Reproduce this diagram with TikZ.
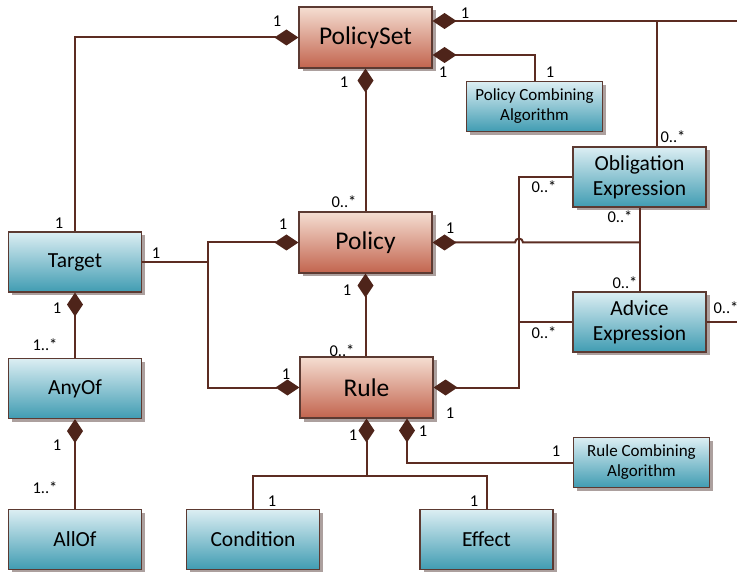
\documentclass[tikz,border=0pt]{standalone}
\usepackage{fontspec}
\setmainfont{Carlito}
\usetikzlibrary{arrows.meta,shadows,calc}

\definecolor{wire}{RGB}{92,44,34}
\definecolor{tipc}{RGB}{78,36,26}
\definecolor{edgec}{RGB}{92,58,50}
\definecolor{redtop}{RGB}{245,222,210}
\definecolor{redbot}{RGB}{194,100,78}
\definecolor{bluetop}{RGB}{220,238,243}
\definecolor{bluebot}{RGB}{64,156,178}
\definecolor{shadowc}{RGB}{172,160,158}

\tikzset{
  box/.style={rectangle, draw=edgec, line width=1.1pt, inner sep=0pt, align=center,
    drop shadow={shadow xshift=3.5pt, shadow yshift=-3.5pt, fill=shadowc, opacity=1}},
  redbox/.style={box, top color=redtop, bottom color=redbot,
    minimum width=133pt, minimum height=61pt, font=\fontsize{25.5}{27}\selectfont},
  bluebox/.style={box, top color=bluetop, bottom color=bluebot,
    minimum width=133pt, minimum height=60pt, font=\fontsize{21.5}{25}\selectfont},
  smallbox/.style={box, top color=bluetop, bottom color=bluebot,
    minimum width=136pt, minimum height=50pt, font=\fontsize{17}{20}\selectfont},
  wireline/.style={draw=wire, line width=2pt},
  comp/.style={wireline, -{Diamond[length=24pt,width=16pt,fill=tipc,color=tipc]}},
  compstart/.style={wireline, {Diamond[length=24pt,width=16pt,fill=tipc,color=tipc]}-},
  mult/.style={font=\fontsize{16.5}{18}\selectfont, inner sep=0pt, text=black},
}

\begin{document}
\begin{tikzpicture}[x=1pt,y=-1pt]
\useasboundingbox (0,0) rectangle (737,572);

% classes
\node[redbox] (ps) at (365.5,37.5) {PolicySet};
\node[redbox] (po) at (365.5,242.5) {Policy};
\node[redbox] (ru) at (366.5,387.5) {Rule};
\node[bluebox] (tg) at (75,262) {Target};
\node[bluebox] (ao) at (75,388.5) {AnyOf};
\node[bluebox] (al) at (75,539.5) {AllOf};
\node[bluebox] (co) at (253,539.5) {Condition};
\node[bluebox] (ef) at (486.5,539.5) {Effect};
\node[bluebox] (ob) at (639.5,177) {Obligation\\Expression};
\node[bluebox] (ad) at (639.5,322) {Advice\\Expression};
\node[smallbox] (pca) at (534.5,106.5) {Policy Combining\\Algorithm};
\node[smallbox] (rca) at (641.5,462.5) {Rule Combining\\Algorithm};

% junction points
\coordinate (edgeA) at (737,21);
\coordinate (edgeB) at (737,322);
\coordinate (obBr) at (657,21);
\coordinate (jL) at (208,262);
\coordinate (jR) at (519,387.5);
\coordinate (bus) at (366.5,476);

% PolicySet compositions
\draw[comp] (tg.north) |- (ps.west);
\draw[compstart] ([yshift=16.5pt]ps.east) -- (edgeA);
\draw[wireline] (obBr) -- (obBr |- ob.north);
\draw[comp] (pca.north) |- ([yshift=-17.5pt]ps.east);
\draw[comp] (po.north) -- (ps.south);

% Policy compositions
\draw[comp] (tg.east) -- (jL) |- (po.west);
\draw[comp] (jL) |- (ru.west);
\draw[compstart] (po.east) -- ($(jR |- po.east)+(-4,0)$)
  arc[start angle=180, end angle=0, radius=4pt] -- (ob.south |- po.east);
\draw[wireline] (ob.south) -- (ad.north);
\draw[comp] (ru.north -| po.south) -- (po.south);

% Rule compositions
\draw[comp] (ob.west) -| (jR) -- (ru.east);
\draw[wireline] (ad.west) -- (ad.west -| jR);
\draw[wireline] (ad.east) -- (edgeB);
\draw[comp] (co.north) |- (bus) -- (ru.south);
\draw[wireline] (ef.north) |- (bus);
\draw[comp] (rca.west) -| ([xshift=40.5pt]ru.south);

% Target compositions
\draw[comp] (ao.north) -- (tg.south);
\draw[comp] (al.north) -- (ao.south);

% multiplicities
\node[mult] (m1) at (277,21) {1};
\node[mult] (m2) at (59,223) {1};
\node[mult] (m3) at (465,13) {1};
\node[mult] (m4) at (673,137) {0..*};
\node[mult] (m5) at (443,72) {1};
\node[mult] (m6) at (550,72) {1};
\node[mult] (m7) at (344,82) {1};
\node[mult] (m8) at (344,202) {0..*};
\node[mult] (m9) at (283,224) {1};
\node[mult] (m10) at (156,253) {1};
\node[mult] (m11) at (286,374) {1};
\node[mult] (m12) at (450,228) {1};
\node[mult] (m13) at (544,187) {0..*};
\node[mult] (m14) at (544,333) {0..*};
\node[mult] (m15) at (620,217) {0..*};
\node[mult] (m16) at (625,283) {0..*};
\node[mult] (m17) at (726,308) {0..*};
\node[mult] (m18) at (450,413) {1};
\node[mult] (m19) at (353,435) {1};
\node[mult] (m20) at (423,431) {1};
\node[mult] (m21) at (556,451) {1};
\node[mult] (m22) at (474,501) {1};
\node[mult] (m23) at (272,501) {1};
\node[mult] (m24) at (57,308) {1};
\node[mult] (m25) at (45,345) {1..*};
\node[mult] (m26) at (57,445) {1};
\node[mult] (m27) at (45,488) {1..*};
\node[mult] (m28) at (347,290) {1};
\node[mult] (m29) at (342,351) {0..*};
\end{tikzpicture}
\end{document}
